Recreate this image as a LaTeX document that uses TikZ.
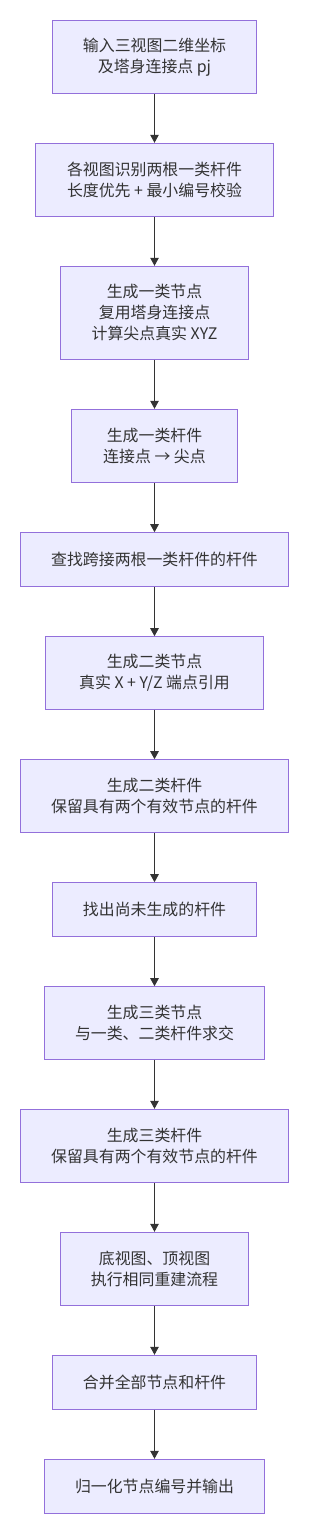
\documentclass[tikz,border=0pt]{standalone}
\usepackage{fontspec}
\newfontfamily\cjk{Noto Sans CJK SC}
\usetikzlibrary{arrows.meta}
\definecolor{boxfill}{HTML}{ECECFF}
\definecolor{boxline}{HTML}{9370DB}
\definecolor{ink}{HTML}{333333}
\tikzset{
  stepbox/.style={draw=boxline, fill=boxfill, line width=1pt, inner sep=0pt,
    align=center, text=ink, font=\cjk\fontsize{15.9}{21}\selectfont},
  flow/.style={draw=ink, line width=1pt, -{Triangle[length=8pt,width=8.5pt]}}
}
\begin{document}
\begin{tikzpicture}[x=1pt,y=-1pt]
\useasboundingbox (0,0) rectangle (308,1533);
\node[stepbox, minimum width=204pt, minimum height=73pt] (b1) at (154.5,56.8) {输入三视图二维坐标\\及塔身连接点 pj};
\node[stepbox, minimum width=238pt, minimum height=73pt] (b2) at (154.5,179.8) {各视图识别两根一类杆件\\长度优先 + 最小编号校验};
\node[stepbox, minimum width=188.4pt, minimum height=93pt] (b3) at (154.5,312.8) {生成一类节点\\复用塔身连接点\\计算尖点真实 XYZ};
\node[stepbox, minimum width=166pt, minimum height=73pt] (b4) at (154.5,445.8) {生成一类杆件\\连接点 → 尖点};
\node[stepbox, minimum width=267.6pt, minimum height=53.6pt] (b5) at (154.5,559.5) {查找跨接两根一类杆件的杆件};
\node[stepbox, minimum width=218.6pt, minimum height=72.6pt] (b6) at (154.5,673) {生成二类节点\\真实 X + Y/Z 端点引用};
\node[stepbox, minimum width=267.6pt, minimum height=72.6pt] (b7) at (154.5,796) {生成二类杆件\\保留具有两个有效节点的杆件};
\node[stepbox, minimum width=204pt, minimum height=53.6pt] (b8) at (154.5,909.5) {找出尚未生成的杆件};
\node[stepbox, minimum width=219.6pt, minimum height=72.6pt] (b9) at (154.5,1023) {生成三类节点\\与一类、二类杆件求交};
\node[stepbox, minimum width=267.6pt, minimum height=73pt] (b10) at (154.5,1145.8) {生成三类杆件\\保留具有两个有效节点的杆件};
\node[stepbox, minimum width=188.4pt, minimum height=73pt] (b11) at (154.5,1268.8) {底视图、顶视图\\执行相同重建流程};
\node[stepbox, minimum width=204pt, minimum height=54pt] (b12) at (154.5,1382.3) {合并全部节点和杆件};
\node[stepbox, minimum width=219.6pt, minimum height=54pt] (b13) at (154.5,1486.3) {归一化节点编号并输出};
\foreach \a/\b in {b1/b2,b2/b3,b3/b4,b4/b5,b5/b6,b6/b7,b7/b8,b8/b9,b9/b10,b10/b11,b11/b12,b12/b13}
  \draw[flow] (\a.south) -- (\b.north);
\end{tikzpicture}
\end{document}
